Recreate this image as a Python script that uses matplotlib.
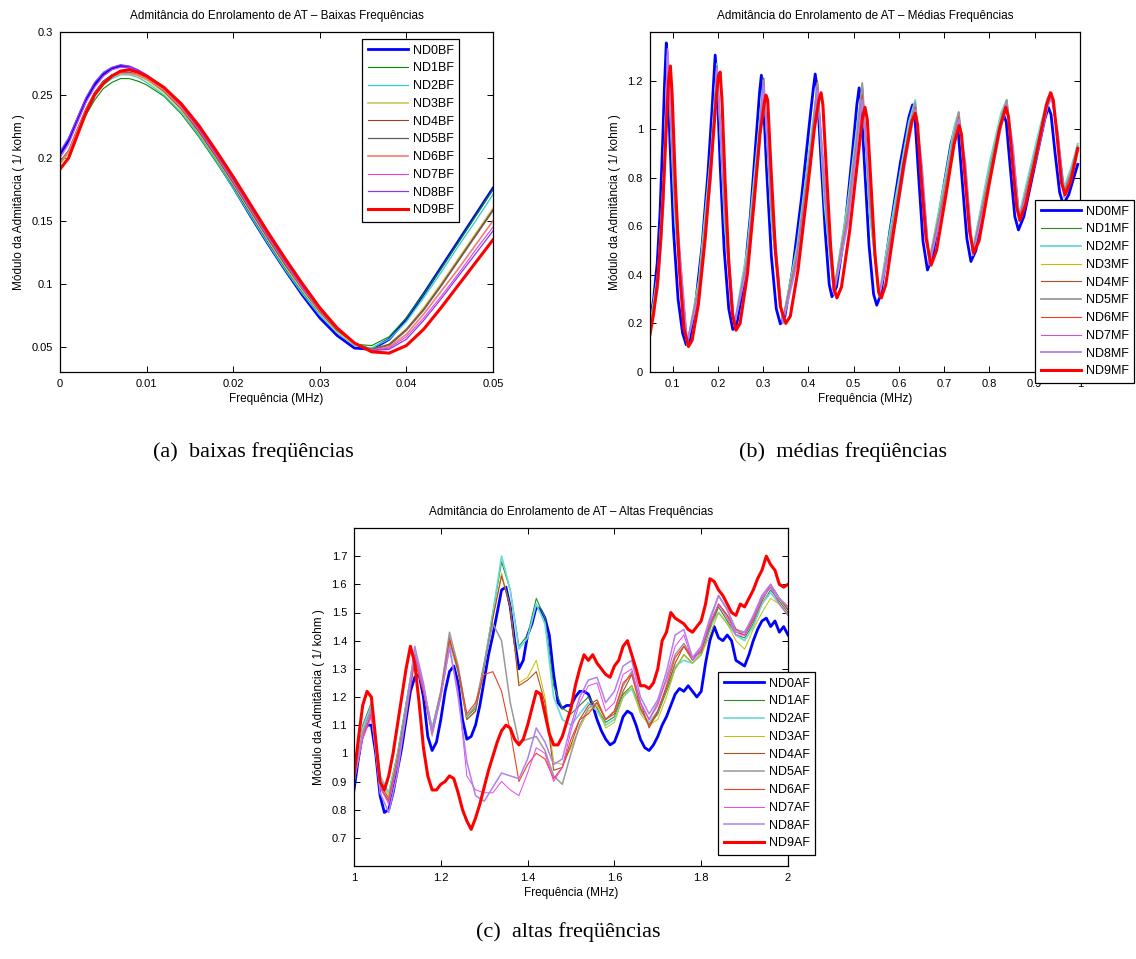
import numpy as np
import matplotlib
matplotlib.use('Agg')
import matplotlib.pyplot as plt

plt.rcParams['font.family'] = ['Liberation Sans', 'DejaVu Sans']

# ---------------- data: low frequencies (BF) ----------------
bf_freq = [0.000, 0.001, 0.002, 0.003, 0.004, 0.005, 0.006, 0.007, 0.008, 0.009,
           0.010, 0.012, 0.014, 0.016, 0.018, 0.020, 0.022, 0.024, 0.026, 0.028,
           0.030, 0.032, 0.034, 0.036, 0.038, 0.040, 0.042, 0.044, 0.046, 0.048, 0.050]
bf_nd0 = [0.203, 0.214, 0.230, 0.246, 0.258, 0.266, 0.271, 0.273, 0.272, 0.269,
          0.265, 0.254, 0.239, 0.220, 0.199, 0.177, 0.154, 0.132, 0.111, 0.091,
          0.073, 0.059, 0.049, 0.048, 0.056, 0.072, 0.092, 0.113, 0.134, 0.155, 0.176]
bf_nd1 = [0.196, 0.204, 0.219, 0.234, 0.246, 0.255, 0.260, 0.263, 0.263, 0.261,
          0.258, 0.249, 0.235, 0.217, 0.197, 0.176, 0.154, 0.132, 0.112, 0.093,
          0.076, 0.062, 0.052, 0.051, 0.058, 0.073, 0.092, 0.112, 0.133, 0.154, 0.175]
bf_nd2 = [0.197, 0.206, 0.222, 0.238, 0.250, 0.258, 0.263, 0.266, 0.266, 0.264,
          0.260, 0.250, 0.236, 0.218, 0.198, 0.176, 0.154, 0.132, 0.111, 0.092,
          0.075, 0.061, 0.051, 0.049, 0.056, 0.070, 0.089, 0.109, 0.130, 0.150, 0.171]
bf_nd3 = [0.195, 0.204, 0.221, 0.238, 0.251, 0.260, 0.265, 0.267, 0.267, 0.265,
          0.262, 0.252, 0.238, 0.220, 0.200, 0.179, 0.157, 0.135, 0.114, 0.095,
          0.077, 0.062, 0.052, 0.048, 0.052, 0.064, 0.081, 0.100, 0.120, 0.140, 0.160]
bf_nd4 = [0.196, 0.205, 0.222, 0.239, 0.252, 0.261, 0.266, 0.268, 0.268, 0.266,
          0.263, 0.253, 0.239, 0.221, 0.201, 0.180, 0.158, 0.136, 0.115, 0.096,
          0.078, 0.063, 0.053, 0.048, 0.052, 0.064, 0.080, 0.099, 0.119, 0.139, 0.159]
bf_nd5 = [0.197, 0.206, 0.223, 0.239, 0.252, 0.261, 0.266, 0.268, 0.268, 0.266,
          0.263, 0.254, 0.240, 0.222, 0.202, 0.181, 0.159, 0.137, 0.116, 0.096,
          0.078, 0.063, 0.053, 0.048, 0.051, 0.063, 0.079, 0.098, 0.118, 0.138, 0.158]
bf_nd6 = [0.196, 0.205, 0.222, 0.238, 0.251, 0.260, 0.265, 0.267, 0.267, 0.266,
          0.263, 0.254, 0.240, 0.223, 0.203, 0.182, 0.160, 0.138, 0.117, 0.097,
          0.079, 0.064, 0.053, 0.047, 0.050, 0.060, 0.076, 0.094, 0.112, 0.131, 0.150]
bf_nd7 = [0.200, 0.211, 0.228, 0.244, 0.256, 0.265, 0.270, 0.272, 0.272, 0.269,
          0.265, 0.255, 0.241, 0.223, 0.203, 0.182, 0.160, 0.138, 0.117, 0.097,
          0.079, 0.064, 0.053, 0.047, 0.049, 0.058, 0.073, 0.090, 0.108, 0.127, 0.145]
bf_nd8 = [0.205, 0.216, 0.232, 0.248, 0.260, 0.268, 0.272, 0.274, 0.273, 0.270,
          0.266, 0.256, 0.242, 0.224, 0.204, 0.183, 0.161, 0.139, 0.118, 0.098,
          0.080, 0.064, 0.053, 0.047, 0.048, 0.056, 0.071, 0.088, 0.106, 0.124, 0.142]
bf_nd9 = [0.191, 0.200, 0.218, 0.236, 0.250, 0.259, 0.265, 0.269, 0.270, 0.268,
          0.265, 0.256, 0.243, 0.226, 0.206, 0.185, 0.163, 0.141, 0.120, 0.100,
          0.081, 0.065, 0.053, 0.046, 0.045, 0.051, 0.064, 0.081, 0.099, 0.117, 0.135]

# ---------------- data: medium frequencies (MF) ----------------
mf_nd0 = [(0.050, 0.21), (0.058, 0.30), (0.066, 0.45), (0.072, 0.65), (0.078, 0.95),
          (0.082, 1.18), (0.086, 1.355), (0.089, 1.25), (0.094, 0.95), (0.102, 0.58),
          (0.112, 0.30), (0.122, 0.16), (0.130, 0.112), (0.137, 0.13), (0.150, 0.27),
          (0.165, 0.52), (0.178, 0.82), (0.187, 1.08), (0.194, 1.305), (0.198, 1.20),
          (0.205, 0.85), (0.214, 0.50), (0.224, 0.26), (0.233, 0.175), (0.242, 0.20),
          (0.258, 0.38), (0.272, 0.65), (0.284, 0.95), (0.292, 1.15), (0.296, 1.222),
          (0.300, 1.14), (0.308, 0.82), (0.318, 0.48), (0.329, 0.26), (0.338, 0.198),
          (0.348, 0.23), (0.365, 0.42), (0.385, 0.72), (0.402, 1.02), (0.411, 1.17),
          (0.415, 1.227), (0.419, 1.17), (0.427, 0.90), (0.437, 0.58), (0.446, 0.36),
          (0.452, 0.31), (0.462, 0.35), (0.480, 0.58), (0.496, 0.88), (0.507, 1.10),
          (0.512, 1.17), (0.516, 1.12), (0.524, 0.85), (0.534, 0.52), (0.544, 0.32),
          (0.551, 0.275), (0.560, 0.32), (0.580, 0.58), (0.603, 0.86), (0.622, 1.05),
          (0.630, 1.10), (0.635, 1.06), (0.643, 0.82), (0.653, 0.54), (0.663, 0.42),
          (0.675, 0.48), (0.695, 0.72), (0.715, 0.94), (0.726, 1.02), (0.731, 0.99),
          (0.740, 0.78), (0.750, 0.55), (0.759, 0.455), (0.770, 0.50), (0.790, 0.72),
          (0.815, 0.96), (0.831, 1.06), (0.837, 1.03), (0.846, 0.84), (0.856, 0.64),
          (0.864, 0.585), (0.876, 0.64), (0.900, 0.85), (0.922, 1.04), (0.930, 1.09),
          (0.936, 1.06), (0.945, 0.90), (0.955, 0.74), (0.963, 0.69), (0.975, 0.73),
          (0.995, 0.855)]
mf_nd9 = [(0.050, 0.155), (0.058, 0.24), (0.066, 0.36), (0.074, 0.55), (0.081, 0.80),
          (0.087, 1.05), (0.091, 1.20), (0.095, 1.26), (0.099, 1.14), (0.106, 0.78),
          (0.115, 0.42), (0.125, 0.18), (0.135, 0.105), (0.143, 0.13), (0.157, 0.28),
          (0.172, 0.55), (0.186, 0.88), (0.196, 1.12), (0.201, 1.22), (0.205, 1.235),
          (0.209, 1.12), (0.216, 0.78), (0.224, 0.45), (0.232, 0.24), (0.240, 0.172),
          (0.249, 0.20), (0.265, 0.40), (0.280, 0.70), (0.293, 0.98), (0.302, 1.10),
          (0.306, 1.14), (0.310, 1.12), (0.317, 0.85), (0.327, 0.50), (0.338, 0.27),
          (0.350, 0.20), (0.360, 0.23), (0.377, 0.42), (0.396, 0.72), (0.413, 1.00),
          (0.423, 1.12), (0.428, 1.15), (0.432, 1.10), (0.440, 0.82), (0.449, 0.52),
          (0.457, 0.34), (0.463, 0.305), (0.473, 0.35), (0.491, 0.58), (0.508, 0.86),
          (0.519, 1.04), (0.525, 1.09), (0.530, 1.04), (0.538, 0.78), (0.547, 0.48),
          (0.555, 0.33), (0.561, 0.305), (0.571, 0.36), (0.590, 0.60), (0.611, 0.86),
          (0.628, 1.03), (0.636, 1.065), (0.641, 1.02), (0.649, 0.80), (0.660, 0.55),
          (0.671, 0.44), (0.683, 0.50), (0.703, 0.72), (0.722, 0.94), (0.733, 1.015),
          (0.738, 0.98), (0.747, 0.78), (0.756, 0.58), (0.765, 0.49), (0.777, 0.54),
          (0.798, 0.76), (0.822, 1.00), (0.836, 1.09), (0.842, 1.05), (0.851, 0.86),
          (0.860, 0.68), (0.867, 0.625), (0.880, 0.69), (0.904, 0.90), (0.926, 1.10),
          (0.935, 1.15), (0.941, 1.12), (0.950, 0.96), (0.959, 0.78), (0.967, 0.73),
          (0.979, 0.78), (0.995, 0.92)]

# the thin curves share their sample frequencies
mf_freq_thin = [0.050, 0.068, 0.080,
                0.089, 0.105, 0.132, 0.158, 0.185,
                0.198, 0.215, 0.236, 0.265, 0.290,
                0.301, 0.318, 0.343, 0.375, 0.408,
                0.420, 0.436, 0.456, 0.487, 0.508,
                0.519, 0.535, 0.556, 0.592, 0.622,
                0.636, 0.651, 0.667, 0.703, 0.722,
                0.732, 0.747, 0.763, 0.800, 0.826,
                0.838, 0.852, 0.866, 0.905, 0.928,
                0.937, 0.951, 0.965, 0.980, 0.995]
mf_nd1 = [0.19, 0.42, 0.80, 1.28, 0.62, 0.11, 0.38, 0.90, 1.26, 0.60, 0.19, 0.50, 0.98,
          1.21, 0.62, 0.21, 0.52, 1.00, 1.19, 0.68, 0.33, 0.70, 1.02, 1.18, 0.66, 0.31,
          0.70, 1.02, 1.11, 0.75, 0.46, 0.80, 1.00, 1.07, 0.78, 0.50, 0.85, 1.06, 1.12,
          0.88, 0.64, 0.95, 1.12, 1.15, 0.95, 0.75, 0.83, 0.94]
mf_nd2 = [0.19, 0.42, 0.81, 1.30, 0.63, 0.11, 0.38, 0.91, 1.27, 0.61, 0.19, 0.51, 0.99,
          1.21, 0.63, 0.21, 0.52, 1.00, 1.18, 0.68, 0.33, 0.70, 1.02, 1.17, 0.66, 0.32,
          0.71, 1.03, 1.12, 0.76, 0.46, 0.81, 1.01, 1.07, 0.78, 0.50, 0.86, 1.07, 1.12,
          0.88, 0.65, 0.96, 1.13, 1.15, 0.96, 0.76, 0.84, 0.94]
mf_nd3 = [0.18, 0.39, 0.76, 1.29, 0.68, 0.12, 0.36, 0.86, 1.25, 0.65, 0.19, 0.48, 0.95,
          1.20, 0.66, 0.21, 0.50, 0.97, 1.19, 0.72, 0.33, 0.67, 0.99, 1.18, 0.70, 0.31,
          0.67, 1.00, 1.10, 0.79, 0.45, 0.78, 0.99, 1.06, 0.81, 0.49, 0.83, 1.05, 1.11,
          0.89, 0.63, 0.93, 1.11, 1.14, 0.96, 0.74, 0.82, 0.93]
mf_nd4 = [0.18, 0.38, 0.75, 1.30, 0.69, 0.12, 0.35, 0.85, 1.26, 0.66, 0.19, 0.47, 0.94,
          1.21, 0.67, 0.21, 0.49, 0.96, 1.20, 0.73, 0.33, 0.66, 0.98, 1.19, 0.71, 0.31,
          0.66, 0.99, 1.11, 0.80, 0.45, 0.77, 0.98, 1.07, 0.82, 0.49, 0.82, 1.04, 1.12,
          0.90, 0.63, 0.93, 1.11, 1.15, 0.97, 0.74, 0.82, 0.93]
mf_nd5 = [0.18, 0.38, 0.74, 1.31, 0.70, 0.12, 0.35, 0.85, 1.25, 0.66, 0.19, 0.47, 0.94,
          1.20, 0.68, 0.21, 0.49, 0.96, 1.19, 0.74, 0.33, 0.66, 0.98, 1.19, 0.72, 0.31,
          0.66, 0.99, 1.11, 0.80, 0.45, 0.77, 0.98, 1.07, 0.82, 0.49, 0.82, 1.04, 1.12,
          0.90, 0.63, 0.93, 1.11, 1.15, 0.97, 0.74, 0.82, 0.93]
mf_nd6 = [0.17, 0.36, 0.71, 1.30, 0.73, 0.12, 0.33, 0.82, 1.24, 0.69, 0.19, 0.45, 0.91,
          1.18, 0.71, 0.21, 0.47, 0.93, 1.17, 0.77, 0.33, 0.63, 0.96, 1.14, 0.75, 0.31,
          0.63, 0.97, 1.09, 0.83, 0.45, 0.75, 0.96, 1.05, 0.84, 0.49, 0.80, 1.03, 1.10,
          0.91, 0.63, 0.91, 1.10, 1.14, 0.98, 0.74, 0.81, 0.92]
mf_nd7 = [0.17, 0.35, 0.70, 1.32, 0.74, 0.12, 0.33, 0.81, 1.25, 0.70, 0.19, 0.45, 0.90,
          1.19, 0.72, 0.20, 0.46, 0.92, 1.17, 0.78, 0.32, 0.62, 0.95, 1.12, 0.76, 0.31,
          0.62, 0.96, 1.08, 0.84, 0.44, 0.74, 0.95, 1.04, 0.85, 0.48, 0.79, 1.02, 1.10,
          0.92, 0.62, 0.90, 1.09, 1.13, 0.98, 0.72, 0.80, 0.91]
mf_nd8 = [0.17, 0.35, 0.69, 1.33, 0.75, 0.12, 0.32, 0.80, 1.25, 0.71, 0.19, 0.44, 0.89,
          1.18, 0.73, 0.20, 0.45, 0.91, 1.16, 0.79, 0.32, 0.61, 0.94, 1.12, 0.77, 0.31,
          0.61, 0.95, 1.08, 0.85, 0.44, 0.73, 0.94, 1.04, 0.86, 0.48, 0.78, 1.01, 1.10,
          0.93, 0.62, 0.89, 1.09, 1.13, 0.99, 0.72, 0.79, 0.91]

# ---------------- data: high frequencies (AF) ----------------
af_freq_fine = np.linspace(1.0, 2.0, 101)   # thick curves, 10 kHz steps
af_freq_thin = np.linspace(1.0, 2.0, 51)    # thin curves, 20 kHz steps
af_nd0 = [0.87, 0.98, 1.07, 1.10, 1.10, 1.00, 0.85, 0.79, 0.80, 0.86,
          0.94, 1.02, 1.12, 1.22, 1.27, 1.28, 1.20, 1.06, 1.01, 1.04,
          1.12, 1.22, 1.29, 1.31, 1.25, 1.12, 1.05, 1.06, 1.10, 1.17,
          1.26, 1.35, 1.42, 1.50, 1.58, 1.59, 1.52, 1.40, 1.30, 1.33,
          1.42, 1.46, 1.52, 1.51, 1.48, 1.42, 1.28, 1.18, 1.16, 1.17,
          1.17, 1.20, 1.22, 1.22, 1.21, 1.17, 1.12, 1.08, 1.05, 1.03,
          1.04, 1.08, 1.13, 1.15, 1.14, 1.10, 1.05, 1.02, 1.01, 1.03,
          1.06, 1.10, 1.13, 1.17, 1.21, 1.23, 1.22, 1.24, 1.22, 1.20,
          1.22, 1.32, 1.40, 1.45, 1.41, 1.40, 1.42, 1.40, 1.33, 1.32,
          1.31, 1.35, 1.40, 1.44, 1.47, 1.48, 1.45, 1.47, 1.43, 1.45,
          1.42]
af_nd9 = [0.92, 1.05, 1.17, 1.22, 1.20, 1.05, 0.90, 0.87, 0.92, 1.00,
          1.10, 1.20, 1.30, 1.38, 1.32, 1.18, 1.02, 0.92, 0.87, 0.87,
          0.89, 0.90, 0.92, 0.91, 0.86, 0.80, 0.76, 0.73, 0.77, 0.82,
          0.88, 0.94, 0.99, 1.04, 1.08, 1.10, 1.09, 1.05, 1.03, 1.05,
          1.10, 1.16, 1.22, 1.21, 1.14, 1.07, 1.03, 1.03, 1.06, 1.11,
          1.16, 1.24, 1.30, 1.35, 1.33, 1.35, 1.32, 1.30, 1.28, 1.27,
          1.31, 1.33, 1.38, 1.40, 1.35, 1.30, 1.24, 1.24, 1.23, 1.25,
          1.30, 1.40, 1.43, 1.50, 1.48, 1.47, 1.46, 1.44, 1.43, 1.45,
          1.47, 1.53, 1.62, 1.61, 1.58, 1.56, 1.53, 1.50, 1.49, 1.53,
          1.52, 1.55, 1.58, 1.62, 1.65, 1.70, 1.67, 1.65, 1.60, 1.59,
          1.60]
af_nd1 = [0.93, 1.10, 1.18, 0.92, 0.86, 1.00, 1.18, 1.36, 1.24, 1.09,
          1.22, 1.40, 1.30, 1.13, 1.16, 1.32, 1.50, 1.68, 1.58, 1.38,
          1.42, 1.55, 1.48, 1.24, 1.16, 1.14, 1.17, 1.20, 1.16, 1.11,
          1.13, 1.21, 1.24, 1.16, 1.10, 1.14, 1.22, 1.30, 1.35, 1.32,
          1.35, 1.44, 1.52, 1.47, 1.42, 1.41, 1.46, 1.53, 1.58, 1.54,
          1.50]
af_nd2 = [0.92, 1.09, 1.17, 0.92, 0.86, 0.99, 1.17, 1.36, 1.23, 1.09,
          1.21, 1.39, 1.29, 1.12, 1.15, 1.31, 1.50, 1.70, 1.58, 1.37,
          1.41, 1.53, 1.46, 1.20, 1.12, 1.10, 1.14, 1.18, 1.15, 1.10,
          1.12, 1.20, 1.23, 1.15, 1.11, 1.15, 1.23, 1.31, 1.33, 1.32,
          1.36, 1.45, 1.50, 1.46, 1.42, 1.40, 1.45, 1.53, 1.57, 1.53,
          1.49]
af_nd3 = [0.92, 1.08, 1.15, 0.90, 0.85, 0.98, 1.15, 1.33, 1.22, 1.06,
          1.20, 1.40, 1.29, 1.12, 1.15, 1.31, 1.48, 1.64, 1.52, 1.25,
          1.27, 1.33, 1.20, 0.97, 0.96, 1.02, 1.09, 1.15, 1.17, 1.09,
          1.11, 1.20, 1.24, 1.14, 1.10, 1.12, 1.20, 1.30, 1.35, 1.32,
          1.35, 1.42, 1.50, 1.46, 1.40, 1.37, 1.44, 1.50, 1.55, 1.53,
          1.49]
af_nd4 = [0.91, 1.07, 1.16, 0.89, 0.84, 0.98, 1.16, 1.35, 1.23, 1.07,
          1.21, 1.41, 1.29, 1.12, 1.15, 1.31, 1.48, 1.63, 1.52, 1.24,
          1.26, 1.29, 1.18, 0.94, 0.95, 1.03, 1.12, 1.17, 1.19, 1.12,
          1.14, 1.22, 1.28, 1.18, 1.09, 1.15, 1.23, 1.32, 1.38, 1.33,
          1.37, 1.45, 1.53, 1.49, 1.43, 1.42, 1.47, 1.54, 1.60, 1.55,
          1.51]
af_nd5 = [0.90, 1.06, 1.14, 0.88, 0.83, 0.97, 1.15, 1.35, 1.23, 1.08,
          1.22, 1.43, 1.31, 1.13, 1.17, 1.32, 1.46, 1.40, 1.18, 1.04,
          1.05, 1.06, 1.01, 0.92, 0.89, 1.00, 1.10, 1.16, 1.18, 1.12,
          1.15, 1.24, 1.29, 1.18, 1.12, 1.18, 1.26, 1.35, 1.39, 1.34,
          1.37, 1.47, 1.56, 1.51, 1.44, 1.43, 1.48, 1.55, 1.59, 1.55,
          1.52]
af_nd6 = [0.90, 1.06, 1.14, 0.88, 0.83, 0.96, 1.13, 1.33, 1.22, 1.07,
          1.21, 1.40, 1.30, 1.14, 1.18, 1.28, 1.29, 1.22, 1.08, 0.90,
          0.96, 1.00, 0.98, 0.91, 0.95, 1.05, 1.12, 1.14, 1.18, 1.12,
          1.15, 1.25, 1.28, 1.16, 1.10, 1.15, 1.24, 1.34, 1.38, 1.34,
          1.36, 1.46, 1.53, 1.49, 1.44, 1.42, 1.48, 1.56, 1.60, 1.55,
          1.51]
af_nd7 = [0.91, 1.05, 1.13, 0.88, 0.82, 0.96, 1.14, 1.35, 1.23, 1.08,
          1.20, 1.37, 1.22, 0.92, 0.87, 0.86, 0.86, 0.90, 0.87, 0.85,
          0.93, 1.02, 1.00, 0.90, 0.95, 1.08, 1.18, 1.24, 1.25, 1.15,
          1.18, 1.28, 1.30, 1.18, 1.12, 1.17, 1.27, 1.38, 1.42, 1.33,
          1.37, 1.46, 1.53, 1.48, 1.42, 1.42, 1.48, 1.55, 1.59, 1.53,
          1.49]
af_nd8 = [0.90, 1.07, 1.16, 0.86, 0.79, 0.93, 1.14, 1.38, 1.25, 1.07,
          1.20, 1.38, 1.20, 0.97, 0.85, 0.83, 0.88, 0.93, 0.92, 0.91,
          0.98, 1.09, 1.04, 0.96, 0.98, 1.10, 1.20, 1.26, 1.27, 1.18,
          1.22, 1.31, 1.33, 1.20, 1.14, 1.19, 1.29, 1.42, 1.44, 1.34,
          1.38, 1.48, 1.56, 1.51, 1.43, 1.43, 1.49, 1.56, 1.60, 1.55,
          1.52]

# ---------------- styles ----------------
bf_colors = ['#0000ff', '#008c00', '#33cccc', '#d2cc66', '#a0401a',
             '#606060', '#f08070', '#e040e0', '#8a3cf0', '#ff0000']
mf_colors = ['#0000ff', '#2a8a2a', '#66d9d9', '#c0c000', '#b05020',
             '#999999', '#f04020', '#d050d0', '#b080f0', '#ff0000']
af_colors = ['#0000ff', '#2a8a2a', '#66d9d9', '#c0c000', '#b05020',
             '#999999', '#f04020', '#f040f0', '#b080f0', '#ff0000']
bf_widths = [2.0, 0.8, 0.9, 1.3, 0.8, 0.9, 1.2, 0.8, 0.9, 2.2]
mf_widths = [2.0, 0.8, 1.3, 0.8, 0.8, 1.3, 0.8, 0.8, 1.3, 2.2]
af_widths = [2.0, 0.8, 1.2, 0.7, 0.8, 1.1, 0.8, 0.7, 1.1, 2.2]

W, H = 1136, 959
fig = plt.figure(figsize=(W / 100, H / 100), dpi=100)


def axes_px(left, top, right, bottom):
    return fig.add_axes([left / W, 1 - bottom / H, (right - left) / W, (bottom - top) / H])


def style_axes(ax, title):
    ax.set_title(title, fontsize=8.5, pad=9)
    ax.set_xlabel('Frequência (MHz)', fontsize=8.5, labelpad=3)
    ax.set_ylabel('Módulo da Admitância ( 1/ kohm )', fontsize=8.5, labelpad=5)
    ax.tick_params(direction='in', length=4, width=0.7, top=True, right=True,
                   labelsize=8, pad=5)
    for sp in ax.spines.values():
        sp.set_linewidth(0.9)


def put_legend(ax, left, top):
    leg = ax.legend(loc='upper left', bbox_to_anchor=(left / W, 1 - top / H),
                    bbox_transform=fig.transFigure, fontsize=9, frameon=True,
                    fancybox=False, edgecolor='black', framealpha=1,
                    borderpad=0.45, labelspacing=0.46, handlelength=3.2,
                    handletextpad=0.4, borderaxespad=0)
    leg.get_frame().set_linewidth(0.9)
    return leg


# ---------- (a) baixas frequencias ----------
ax1 = axes_px(60, 32, 493, 372)
bf_series = [bf_nd0, bf_nd1, bf_nd2, bf_nd3, bf_nd4, bf_nd5, bf_nd6, bf_nd7, bf_nd8, bf_nd9]
for i, ys in enumerate(bf_series):
    ax1.plot(bf_freq, ys, color=bf_colors[i], lw=bf_widths[i], label=f'ND{i}BF')
ax1.set_xlim(0, 0.05)
ax1.set_ylim(0.03, 0.3)
ax1.set_xticks([0, 0.01, 0.02, 0.03, 0.04, 0.05])
ax1.set_xticklabels(['0', '0.01', '0.02', '0.03', '0.04', '0.05'])
ax1.set_yticks([0.05, 0.1, 0.15, 0.2, 0.25, 0.3])
ax1.set_yticklabels(['0.05', '0.1', '0.15', '0.2', '0.25', '0.3'])
style_axes(ax1, 'Admitância do Enrolamento de AT – Baixas Frequências')
put_legend(ax1, 362, 39)

# ---------- (b) medias frequencias ----------
ax2 = axes_px(650, 32, 1080, 372)
mf_thin = [mf_nd1, mf_nd2, mf_nd3, mf_nd4, mf_nd5, mf_nd6, mf_nd7, mf_nd8]
x0, y0 = zip(*mf_nd0)
ax2.plot(x0, y0, color=mf_colors[0], lw=mf_widths[0], label='ND0MF')
for i, ys in enumerate(mf_thin, start=1):
    ax2.plot(mf_freq_thin, ys, color=mf_colors[i], lw=mf_widths[i], label=f'ND{i}MF')
x9, y9 = zip(*mf_nd9)
ax2.plot(x9, y9, color=mf_colors[9], lw=mf_widths[9], label='ND9MF')
ax2.set_xlim(0.05, 1.0)
ax2.set_ylim(0, 1.4)
ax2.set_xticks([0.1, 0.2, 0.3, 0.4, 0.5, 0.6, 0.7, 0.8, 0.9, 1.0])
ax2.set_xticklabels(['0.1', '0.2', '0.3', '0.4', '0.5', '0.6', '0.7', '0.8', '0.9', '1'])
ax2.set_yticks([0, 0.2, 0.4, 0.6, 0.8, 1.0, 1.2])
ax2.set_yticklabels(['0', '0.2', '0.4', '0.6', '0.8', '1', '1.2'])
style_axes(ax2, 'Admitância do Enrolamento de AT – Médias Frequências')
put_legend(ax2, 1035, 200)

# ---------- (c) altas frequencias ----------
ax3 = axes_px(354, 528, 788, 866)
af_thin = [af_nd1, af_nd2, af_nd3, af_nd4, af_nd5, af_nd6, af_nd7, af_nd8]
ax3.plot(af_freq_fine, af_nd0, color=af_colors[0], lw=af_widths[0], label='ND0AF')
for i, ys in enumerate(af_thin, start=1):
    ax3.plot(af_freq_thin, ys, color=af_colors[i], lw=af_widths[i], label=f'ND{i}AF')
ax3.plot(af_freq_fine, af_nd9, color=af_colors[9], lw=af_widths[9], label='ND9AF')
ax3.set_xlim(1, 2)
ax3.set_ylim(0.6, 1.8)
ax3.set_xticks([1, 1.2, 1.4, 1.6, 1.8, 2])
ax3.set_xticklabels(['1', '1.2', '1.4', '1.6', '1.8', '2'])
ax3.set_yticks([0.7, 0.8, 0.9, 1.0, 1.1, 1.2, 1.3, 1.4, 1.5, 1.6, 1.7])
ax3.set_yticklabels(['0.7', '0.8', '0.9', '1', '1.1', '1.2', '1.3', '1.4', '1.5', '1.6', '1.7'])
style_axes(ax3, 'Admitância do Enrolamento de AT – Altas Frequências')
put_legend(ax3, 718, 672)

# ---------- sub-figure captions ----------
cap_kw = dict(ha='center', va='center', family='Liberation Serif', fontsize=16)
fig.text(253 / W, 1 - 452 / H, '(a)  baixas freqüências', **cap_kw)
fig.text(843 / W, 1 - 452 / H, '(b)  médias freqüências', **cap_kw)
fig.text(568 / W, 1 - 932 / H, '(c)  altas freqüências', **cap_kw)

fig.savefig('out.png', dpi=100)
